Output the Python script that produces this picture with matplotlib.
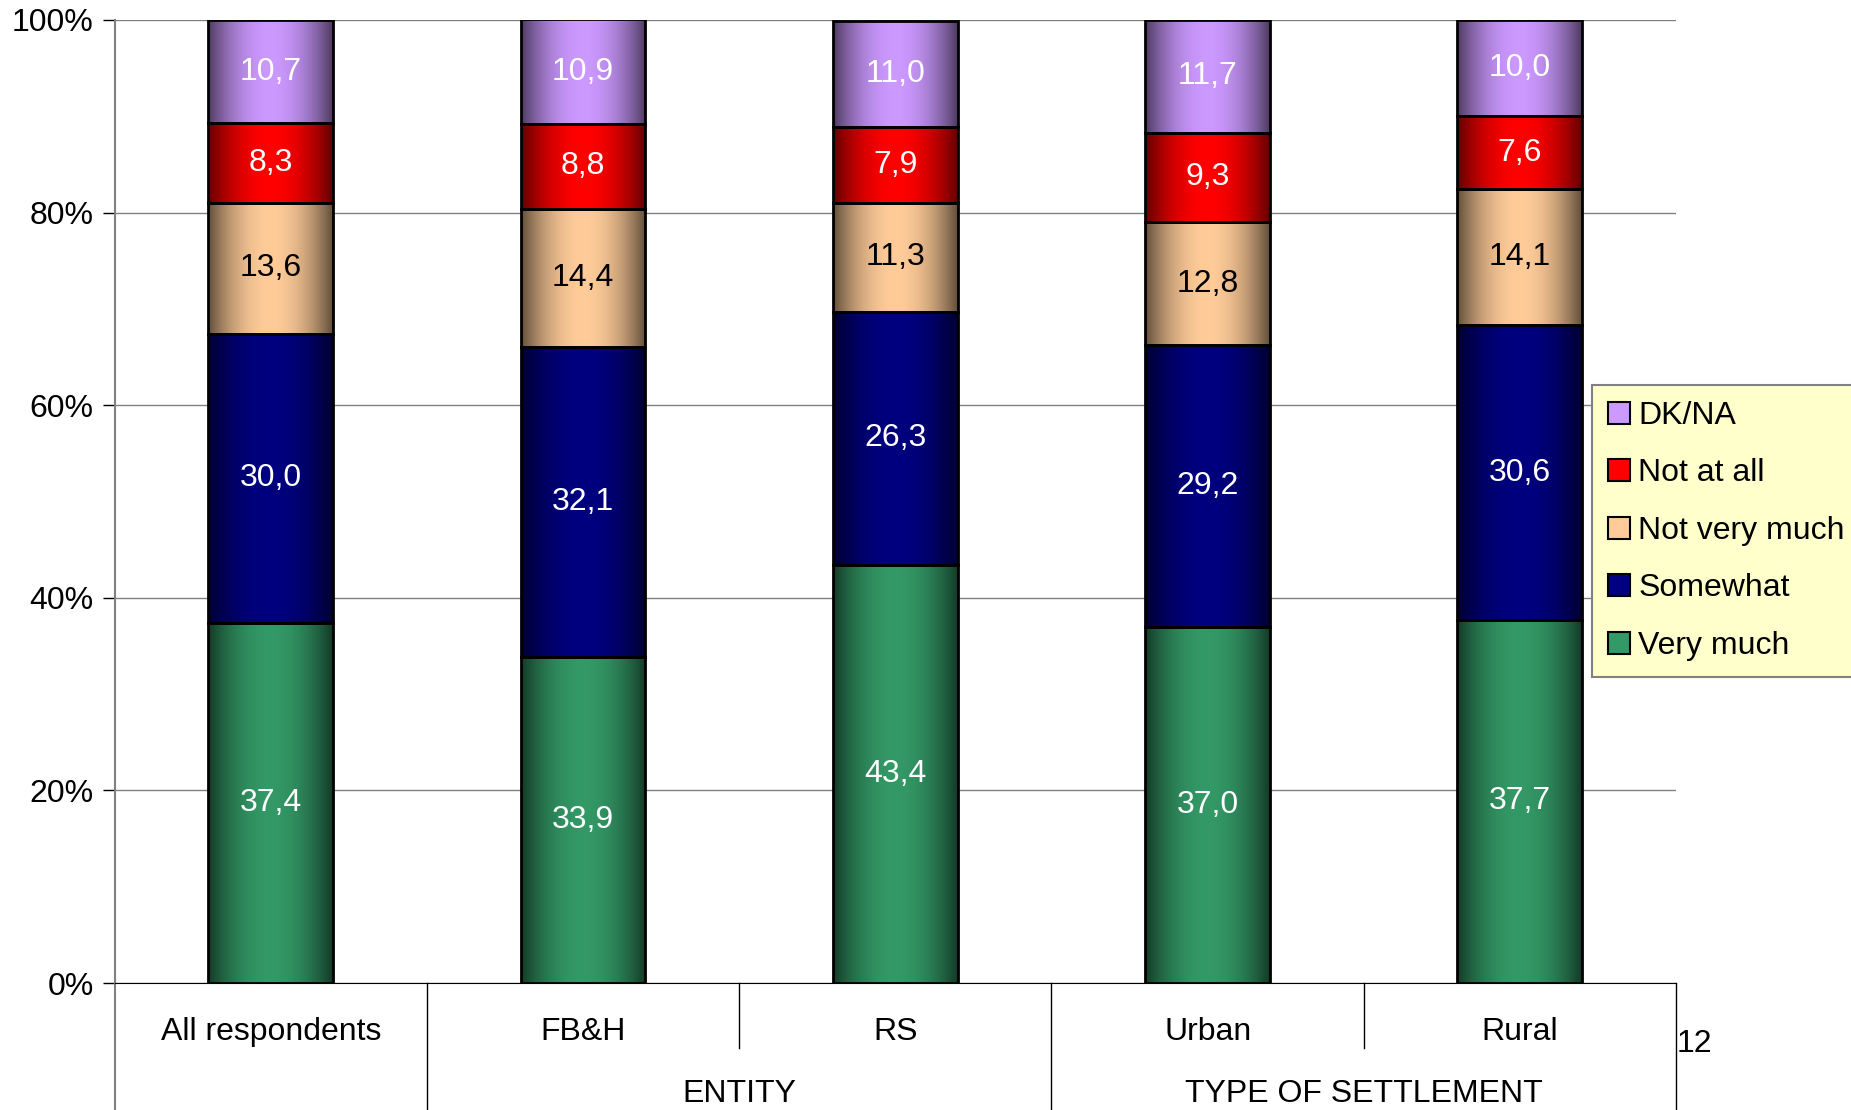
import numpy as np
import matplotlib.pyplot as plt
from matplotlib.patches import Rectangle, Patch
from matplotlib.colors import to_rgb

plt.rcParams['font.family'] = ['Liberation Sans', 'DejaVu Sans']

# data
categories = ["All respondents", "FB&H", "RS", "Urban", "Rural"]
groups = ["ENTITY", "TYPE OF SETTLEMENT"]
series = ["Very much", "Somewhat", "Not very much", "Not at all", "DK/NA"]
very_much = [37.4, 33.9, 43.4, 37.0, 37.7]
somewhat = [30.0, 32.1, 26.3, 29.2, 30.6]
not_very_much = [13.6, 14.4, 11.3, 12.8, 14.1]
not_at_all = [8.3, 8.8, 7.9, 9.3, 7.6]
dk_na = [10.7, 10.9, 11.0, 11.7, 10.0]

colors = ["#339966", "#000080", "#FFCC99", "#FF0000", "#CC99FF"]
text_colors = ["white", "white", "black", "white", "white"]
values = [very_much, somewhat, not_very_much, not_at_all, dk_na]

fs = 23

fig = plt.figure(figsize=(18.51, 11.10), dpi=100)
ax = fig.add_axes([0.0619, 0.1144, 0.9055 - 0.0619, 0.982 - 0.1144])

x = np.arange(len(categories))
width = 0.4

# horizontal shading profile (dark edges, bright middle)
t = np.linspace(0, 1, 200)
shade = 0.38 + 0.62 * (1 - np.abs(2 * t - 1) ** 2.0)

bottom = np.zeros(len(categories))
for vals, col, tcol in zip(values, colors, text_colors):
    rgb = np.array(to_rgb(col))
    grad = (shade[:, None] * rgb[None, :])[None, :, :]
    for i, v in enumerate(vals):
        ax.imshow(grad, extent=(x[i] - width / 2, x[i] + width / 2, bottom[i], bottom[i] + v),
                  aspect='auto', zorder=2, interpolation='bilinear')
        ax.add_patch(Rectangle((x[i] - width / 2, bottom[i]), width, v,
                               facecolor='none', edgecolor='black', lw=2, zorder=3))
        ax.text(x[i], bottom[i] + v / 2, f"{v:.1f}".replace('.', ','),
                ha='center', va='center', color=tcol, fontsize=fs, zorder=4)
    bottom += np.array(vals)

ax.set_xlim(-0.5, len(categories) - 0.5)
ax.set_ylim(0, 100)
ax.set_yticks(np.arange(0, 101, 20))
ax.set_yticklabels([f"{v}%" for v in range(0, 101, 20)], fontsize=fs)
ax.yaxis.grid(True, color='#808080', lw=1, zorder=0)
ax.set_axisbelow(True)
ax.tick_params(axis='y', length=9, width=1, direction='out', pad=6)
ax.set_xticks([])
ax.spines['top'].set_visible(False)
ax.spines['right'].set_visible(False)
ax.spines['left'].set_color('#808080')
ax.spines['left'].set_linewidth(1.5)
ax.spines['bottom'].set_color('black')

# category axis with group separators
trans = ax.get_xaxis_transform()
ax.plot([-0.5, -0.5], [0, -0.14], color='#808080', lw=1.5, transform=trans, clip_on=False)
for xs, low in [(0.5, -0.14), (1.5, -0.0675), (2.5, -0.14), (3.5, -0.0675), (4.5, -0.14)]:
    ax.plot([xs, xs], [0, low], color='black', lw=1, transform=trans, clip_on=False)
for i, c in enumerate(categories):
    ax.text(x[i], -0.051, c, ha='center', va='center', fontsize=fs, transform=trans)
ax.text(1.5, -0.115, groups[0], ha='center', va='center', fontsize=fs, transform=trans)
ax.text(3.5, -0.115, groups[1], ha='center', va='center', fontsize=fs, transform=trans)

fig.text(1694 / 1851, 1 - 1044 / 1110, "12", ha='center', va='center', fontsize=fs)

handles = [Patch(facecolor=c, edgecolor='black', lw=1.5) for c in colors][::-1]
leg = fig.legend(handles, series[::-1], loc='upper left',
                 bbox_to_anchor=(1592 / 1851, 1 - 385 / 1110), fontsize=fs,
                 frameon=True, fancybox=False, framealpha=1,
                 handlelength=0.7, handleheight=0.7, handletextpad=0.25,
                 labelspacing=0.86, borderpad=0.5, borderaxespad=0)
leg.get_frame().set_facecolor('#FFFFCC')
leg.get_frame().set_edgecolor('#808080')
leg.get_frame().set_linewidth(1.5)

fig.savefig("out.png", dpi=100)
